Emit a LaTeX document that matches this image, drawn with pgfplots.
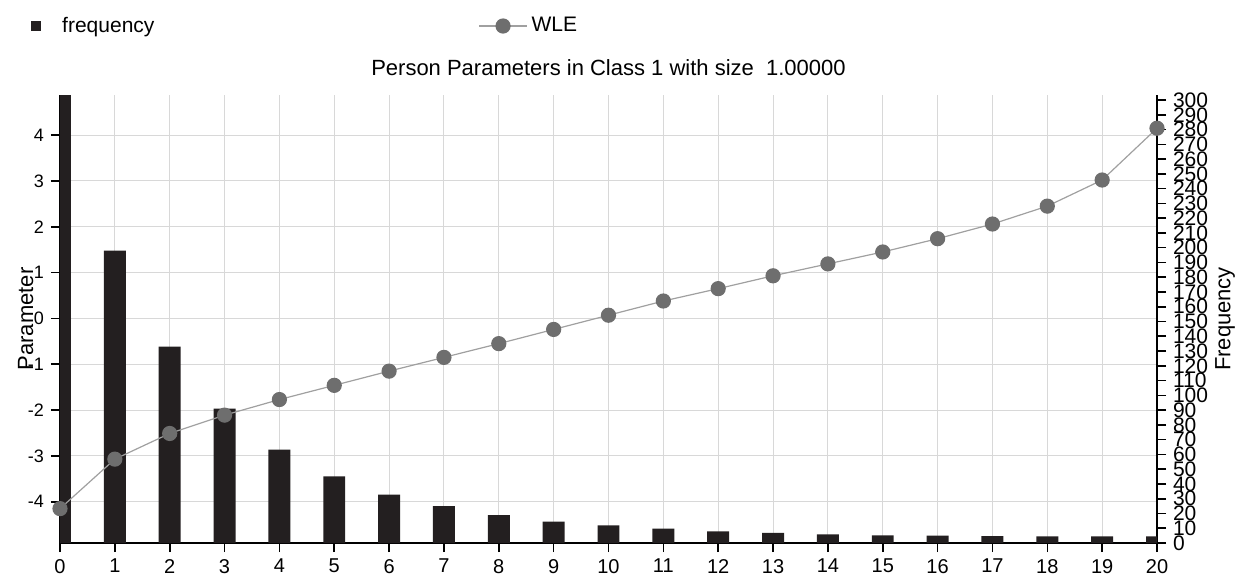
\documentclass[border=0pt]{standalone}
\usepackage{pgfplots}
\pgfplotsset{compat=1.18}
\usepackage{pgfplotstable}
\usepackage{fontspec}
\setmainfont{Liberation Sans}

\definecolor{barc}{HTML}{231F20}
\definecolor{linec}{HTML}{A0A0A0}
\definecolor{dotc}{HTML}{6E6E6E}
\definecolor{gridc}{HTML}{D8D8D8}

% raw score frequencies (right axis)
\pgfplotstableread{
x f
0 330
1 198
2 133
3 91
4 63.3
5 45.2
6 32.8
7 24.9
8 18.8
9 14.5
10 12
11 9.8
12 7.9
13 6.8
14 5.9
15 5.2
16 5.0
17 4.6
18 4.5
19 4.5
20 4.5
}\freqtable

% WLE person parameters (left axis)
\pgfplotstableread{
x w
0 -4.15
1 -3.07
2 -2.51
3 -2.11
4 -1.77
5 -1.46
6 -1.15
7 -0.85
8 -0.55
9 -0.24
10 0.07
11 0.38
12 0.65
13 0.93
14 1.19
15 1.45
16 1.74
17 2.06
18 2.45
19 3.02
20 4.15
}\wletable

\begin{document}
\begin{tikzpicture}
\pgfplotsset{
  base/.style={
    scale only axis, width=548.5pt, height=224pt,
    xmin=0, xmax=20,
    /pgf/number format/assume math mode=true,
    tick align=outside, major tick length=4.5pt,
    tick style={black, line width=0.8pt},
  },
}
% grid, left and bottom axis
\begin{axis}[base, name=A,
  ymin=-4.9, ymax=4.875,
  ytick={-4,...,4}, xtick={0,...,20},
  grid=major, grid style={gridc, line width=0.5pt},
  axis x line*=bottom, axis y line*=left,
  axis line style={black, line width=1pt},
  xticklabel style={font=\fontsize{10}{12}\selectfont},
  yticklabel style={font=\fontsize{9}{11}\selectfont},
  ylabel={Parameter},
  every axis y label/.style={at={(axis description cs:-0.0314,0.5)}, anchor=center, rotate=90, font=\fontsize{11}{13}\selectfont},
  title={Person Parameters in Class 1 with size\ \ 1.00000},
  every axis title/.style={at={(axis description cs:0.5,1)}, anchor=center, yshift=13.5pt, font=\fontsize{11}{13}\selectfont},
]
\end{axis}
% bars, right axis
\begin{axis}[base,
  ymin=0, ymax=303.4,
  axis x line=none, axis y line*=right,
  axis line style={black, line width=1pt},
  ytick={0,10,...,300},
  yticklabel style={font=\fontsize{10.5}{12}\selectfont},
  ylabel={Frequency},
  every axis y label/.style={at={(axis description cs:1.062,0.5)}, anchor=center, rotate=90, font=\fontsize{11}{13}\selectfont},
]
\addplot[ybar, bar width=0.4, fill=barc, draw=none] table[x=x, y=f]{\freqtable};
\end{axis}
% WLE line on top
\begin{axis}[base,
  ymin=-4.9, ymax=4.875,
  hide axis, clip=false,
  legend columns=2,
  legend style={at={(axis description cs:-0.0264,1.154)}, anchor=west, draw=none, fill=none,
    font=\fontsize{10.5}{12}\selectfont, inner sep=0pt,
    /tikz/every even column/.append style={column sep=160pt}},
]
\addlegendimage{legend image code/.code={\fill[barc] (0pt,-2.25pt) rectangle (4.5pt,2.25pt); \path (13pt,0pt);}}
\addlegendentry{frequency}
\addplot[linec, line width=0.6pt, mark=*, mark size=3.5pt, mark options={fill=dotc, draw=dotc},
  legend image code/.code={\draw[linec, line width=0.6pt] (0pt,0pt) -- (24pt,0pt); \fill[dotc] (12pt,0pt) circle (3.5pt);}]
  table[x=x, y=w]{\wletable};
\addlegendentry{WLE}
\end{axis}
\pgfresetboundingbox
\path ([shift={(-30pt,-19pt)}]A.south west) rectangle ([shift={(40.5pt,47.5pt)}]A.north east);
\end{tikzpicture}
\end{document}
